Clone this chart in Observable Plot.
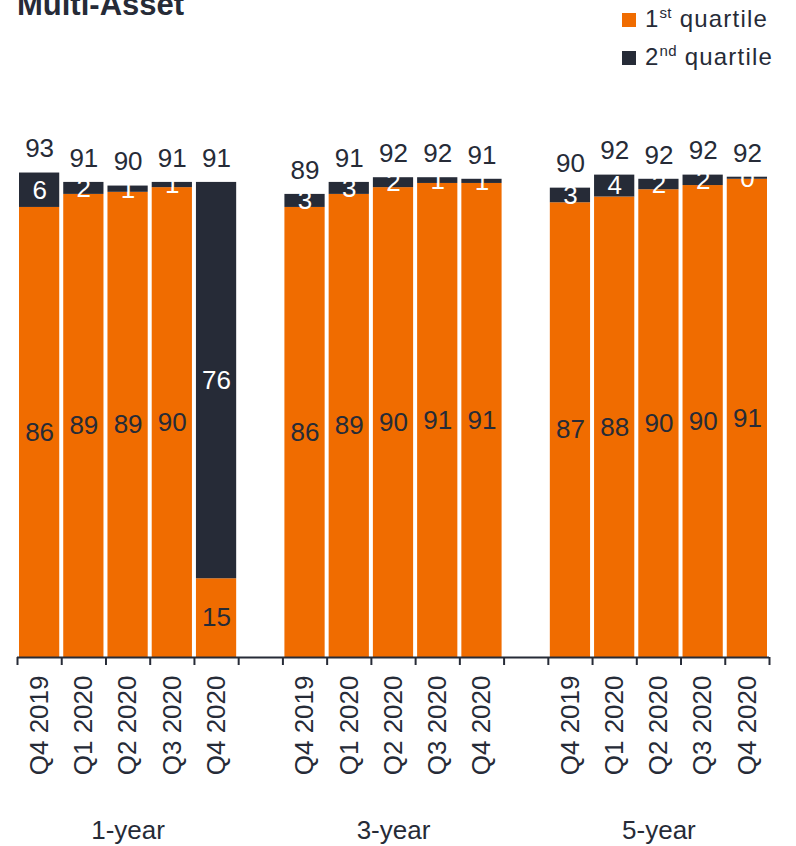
<!DOCTYPE html>
<html><head><meta charset="utf-8">
<script src="https://cdn.jsdelivr.net/npm/d3@7"></script>
<script src="https://cdn.jsdelivr.net/npm/@observablehq/plot@0.6"></script>
<style>
body{margin:0;background:#fff;font-family:"Liberation Sans",Arial,sans-serif;}
#wrap{position:relative;width:796px;height:846px;overflow:hidden;}
#chart{position:absolute;left:0;top:0;}
#title{position:absolute;left:17px;top:-13px;font-weight:bold;font-size:31px;color:#262b37;white-space:nowrap;}
.leg{position:absolute;left:622px;font-size:24px;letter-spacing:1.2px;color:#262b37;white-space:nowrap;line-height:24px;}
.leg span.sw{display:inline-block;width:14px;height:14px;margin-right:9px;vertical-align:0px;}
.leg sup{font-size:15px;vertical-align:9px;line-height:0;letter-spacing:0.3px;}
</style>
</head><body>
<div id="wrap">
  <div id="chart"></div>
  <div id="title">Multi-Asset</div>
  <div class="leg" style="top:7px"><span class="sw" style="background:#f06c00"></span>1<sup>st</sup> quartile</div>
  <div class="leg" style="top:45px"><span class="sw" style="background:#262b37"></span>2<sup>nd</sup> quartile</div>
</div>
<script>
const horizons = ["1-year", "3-year", "5-year"];
const quarters = ["Q4 2019", "Q1 2020", "Q2 2020", "Q3 2020", "Q4 2020"];

// Labels as printed on the chart
const first1y = [86, 89, 89, 90, 15];
const second1y = [6, 2, 1, 1, 76];
const total1y = [93, 91, 90, 91, 91];
const first3y = [86, 89, 90, 91, 91];
const second3y = [3, 3, 2, 1, 1];
const total3y = [89, 91, 92, 92, 91];
const first5y = [87, 88, 90, 90, 91];
const second5y = [3, 4, 2, 2, 0];
const total5y = [90, 92, 92, 92, 92];

// Bar heights (unrounded)
const firstBar1y = [86.3, 88.8, 89.2, 90.1, 15.1];
const totalBar1y = [92.9, 91.1, 90.4, 91.1, 91.1];
const firstBar3y = [86.3, 88.8, 90.1, 90.9, 90.9];
const totalBar3y = [88.8, 91.1, 92.0, 92.0, 91.7];
const firstBar5y = [87.2, 88.3, 89.7, 90.5, 91.7];
const totalBar5y = [90.0, 92.5, 91.7, 92.5, 92.1];

const ORANGE = "#f06c00";
const DARK = "#262b37";
const FONT = "Liberation Sans, Arial, sans-serif";

const firsts = [first1y, first3y, first5y];
const seconds = [second1y, second3y, second5y];
const totals = [total1y, total3y, total5y];
const firstBars = [firstBar1y, firstBar3y, firstBar5y];
const totalBars = [totalBar1y, totalBar3y, totalBar5y];
const rows = [];
horizons.forEach((h, g) => {
  quarters.forEach((q, i) => {
    rows.push({horizon: h, quarter: q, slot: g * 6 + i,
      first: firsts[g][i], second: seconds[g][i], total: totals[g][i],
      firstBar: firstBars[g][i], totalBar: totalBars[g][i]});
  });
});

const chart = Plot.plot({
  width: 796,
  height: 846,
  marginLeft: 17,
  marginRight: 27,
  marginTop: 135.5,
  marginBottom: 189,
  style: {fontFamily: FONT, background: "transparent"},
  x: {domain: [0, 17], axis: null},
  y: {domain: [0, 100], axis: null},
  marks: [
    Plot.rectY(rows, {x1: d => d.slot, x2: d => d.slot + 1, y1: 0, y2: d => d.firstBar,
      fill: ORANGE, insetLeft: 2, insetRight: 2}),
    Plot.rectY(rows, {x1: d => d.slot, x2: d => d.slot + 1, y1: d => d.firstBar, y2: d => d.totalBar,
      fill: DARK, insetLeft: 2, insetRight: 2}),
    Plot.ruleY([0], {stroke: DARK, strokeWidth: 2}),
    Plot.axisX({ticks: d3.range(0, 18), tickSize: 8, tickFormat: () => "", stroke: DARK, strokeWidth: 2}),
    Plot.text(rows, {x: d => d.slot + 0.5, y: d => d.firstBar / 2, text: d => String(d.first),
      fill: DARK, fontSize: 26}),
    Plot.text(rows, {x: d => d.slot + 0.5, y: d => (d.firstBar + d.totalBar) / 2, text: d => String(d.second),
      fill: "white", fontSize: 26}),
    Plot.text(rows, {x: d => d.slot + 0.5, y: d => d.totalBar, text: d => String(d.total),
      fill: DARK, fontSize: 26, dy: -24}),
    Plot.text(rows, {x: d => d.slot + 0.5, y: 0, text: d => d.quarter, rotate: -90,
      textAnchor: "end", dy: 18, fill: DARK, fontSize: 26}),
    Plot.text(horizons, {x: (d, i) => i * 6 + 2.5, y: 0, text: d => d, dy: 173,
      fill: DARK, fontSize: 26})
  ]
});
document.getElementById("chart").append(chart);
</script>
</body></html>
